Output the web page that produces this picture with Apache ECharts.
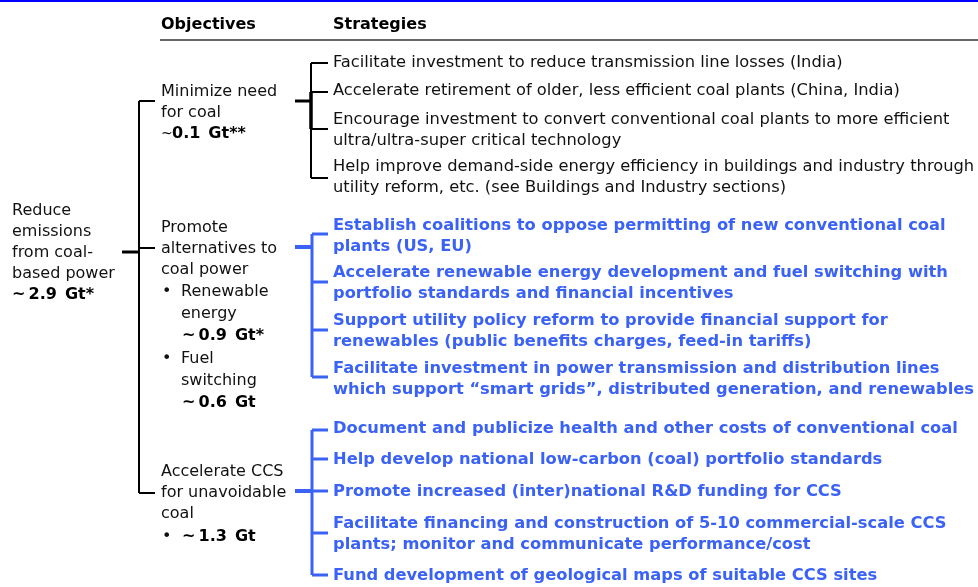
<!DOCTYPE html>
<html>
<head>
<meta charset="utf-8">
<script src="https://cdn.jsdelivr.net/npm/echarts@6/dist/echarts.min.js"></script>
<style>
  html, body { margin: 0; padding: 0; background: #fff; }
  #main { width: 978px; height: 587px; }
</style>
</head>
<body>
<div id="main"></div>
<script>
// ---- chart text (data) ----
var headers = ['Objectives', 'Strategies'];
var rootLines = ['Reduce', 'emissions', 'from coal-', 'based power'];
var rootValue = '~2.9 Gt*';

var minimizeLines = ['Minimize need', 'for coal'];
var minimizeValue = '0.1 Gt**';
var promoteLines = ['Promote', 'alternatives to', 'coal power'];
var promoteSubs = [['Renewable', 'energy'], ['Fuel', 'switching']];
var promoteValues = ['~0.9 Gt*', '~0.6 Gt'];
var ccsLines = ['Accelerate CCS', 'for unavoidable', 'coal'];
var ccsValue = '~1.3 Gt';

var coalStrategies = [
    ['Facilitate investment to reduce transmission line losses (India)'],
    ['Accelerate retirement of older, less efficient coal plants (China, India)'],
    ['Encourage investment to convert conventional coal plants to more efficient', 'ultra/ultra-super critical technology'],
    ['Help improve demand-side energy efficiency in buildings and industry through', 'utility reform, etc. (see Buildings and Industry sections)']
];
var altStrategies = [
    ['Establish coalitions to oppose permitting of new conventional coal', 'plants (US, EU)'],
    ['Accelerate renewable energy development and fuel switching with', 'portfolio standards and financial incentives'],
    ['Support utility policy reform to provide financial support for', 'renewables (public benefits charges, feed-in tariffs)'],
    ['Facilitate investment in power transmission and distribution lines', 'which support \u201csmart grids\u201d, distributed generation, and renewables']
];
var ccsStrategies = [
    ['Document and publicize health and other costs of conventional coal'],
    ['Help develop national low-carbon (coal) portfolio standards'],
    ['Promote increased (inter)national R&D funding for CCS'],
    ['Facilitate financing and construction of 5-10 commercial-scale CCS', 'plants; monitor and communicate performance/cost'],
    ['Fund development of geological maps of suitable CCS sites']
];

// ---- layout (pixel space of a hidden 978x587 grid) ----
var LINE = 21;
var BLUE = '#3b62f6';
var coalY = [63, 91, 120, 167];
var altY = [226, 273, 321, 369];
var ccsY = [429, 460, 492, 524, 576];

var items = [];   // texts: {x, y, t, k}
function add(x, y, t, k) { items.push({ x: x, y: y, t: t, k: k }); }
// the reference sets the Gt figures loosely
function loose(v) { return v.replace('~', '~\u2009').replace(' ', '\u2002'); }

add(161, 25, headers[0], 'head');
add(333, 25, headers[1], 'head');

rootLines.forEach(function (s, i) { add(12, 211 + i * LINE, s, 'reg'); });
add(12, 211 + rootLines.length * LINE, loose(rootValue), 'bold');

minimizeLines.forEach(function (s, i) { add(161, 92 + i * LINE, s, 'reg'); });
add(161, 134, '~', 'small');
add(172, 134, loose(minimizeValue), 'bold');

promoteLines.forEach(function (s, i) { add(161, 228 + i * LINE, s, 'reg'); });
var subTop = [292, 359];
promoteSubs.forEach(function (sub, j) {
    add(162, subTop[j], '\u2022', 'reg');
    sub.forEach(function (s, i) { add(181, subTop[j] + i * 22, s, 'reg'); });
    add(182, subTop[j] + 44, loose(promoteValues[j]), 'bold');
});

ccsLines.forEach(function (s, i) { add(161, 472 + i * LINE, s, 'reg'); });
add(162, 537, '\u2022', 'reg');
add(182, 537, loose(ccsValue), 'bold');

function addGroup(list, ys, kind) {
    list.forEach(function (lines, i) {
        lines.forEach(function (s, j) { add(333, ys[i] + j * LINE, s, kind); });
    });
}
addGroup(coalStrategies, coalY, 'strat');
addGroup(altStrategies, altY, 'blue');
addGroup(ccsStrategies, ccsY, 'blue');

// connector segments: [x1, y1, x2, y2, color, width]
var segs = [];
segs.push([0, 1, 978, 1, '#0000ff', 2]);
segs.push([160, 40, 978, 40, '#333333', 1.5]);
function bracket(x, ticks, tickEnd, stubY, stubStart, color, w) {
    segs.push([x, ticks[0], x, ticks[ticks.length - 1], color, w]);
    ticks.forEach(function (t) { segs.push([x, t, tickEnd, t, color, w]); });
    segs.push([stubStart, stubY, x, stubY, color, w + 1]);
}
bracket(139, [101, 248, 493], 155, 252, 122, '#000000', 2);
bracket(311, [63, 92, 129, 178], 328, 101, 295, '#000000', 2);
segs.push([311, 92, 311, 129, '#000000', 3.5]);
bracket(312, [234, 282, 330, 377], 328, 247, 295, BLUE, 3);
bracket(312, [430, 459, 491, 533, 575], 328, 491, 295, BLUE, 3);

var FONT = '"DejaVu Sans", Verdana, sans-serif';
var styles = {
    head: { font: 'bold 16px ' + FONT, fill: '#000' },
    reg: { font: '16px ' + FONT, fill: '#111' },
    small: { font: '14px ' + FONT, fill: '#111' },
    strat: { font: '16.3px ' + FONT, fill: '#111' },
    bold: { font: 'bold 16px ' + FONT, fill: '#000' },
    blue: { font: 'bold 16.3px ' + FONT, fill: BLUE }
};

var chart = echarts.init(document.getElementById('main'));
chart.setOption({
    animation: false,
    grid: { left: 0, right: 0, top: 0, bottom: 0 },
    xAxis: { type: 'value', min: 0, max: 978, show: false },
    yAxis: { type: 'value', min: 0, max: 587, inverse: true, show: false },
    series: [
        {
            type: 'custom',
            silent: true,
            data: segs.map(function (s) { return [s[0], s[1], s[2], s[3]]; }),
            renderItem: function (params, api) {
                var s = segs[params.dataIndex];
                var a = api.coord([s[0], s[1]]);
                var b = api.coord([s[2], s[3]]);
                return {
                    type: 'line',
                    shape: { x1: a[0], y1: a[1], x2: b[0], y2: b[1] },
                    style: { stroke: s[4], lineWidth: s[5] }
                };
            }
        },
        {
            type: 'custom',
            silent: true,
            data: items.map(function (d) { return [d.x, d.y]; }),
            renderItem: function (params, api) {
                var d = items[params.dataIndex];
                var p = api.coord([d.x, d.y]);
                var st = styles[d.k];
                return {
                    type: 'text',
                    x: p[0],
                    y: p[1],
                    style: {
                        text: d.t,
                        font: st.font,
                        fill: st.fill,
                        align: 'left',
                        verticalAlign: 'middle'
                    }
                };
            }
        }
    ]
});
</script>
</body>
</html>
